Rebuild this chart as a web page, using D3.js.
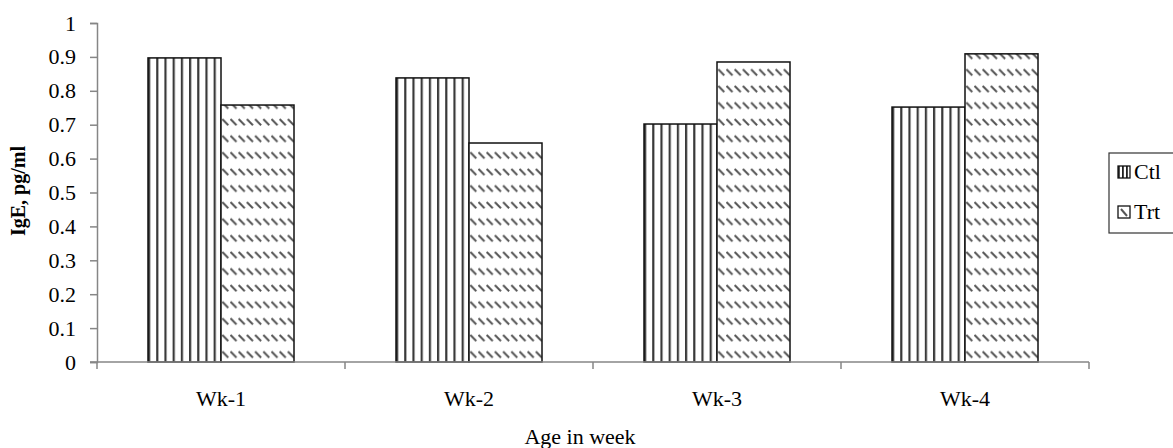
<!DOCTYPE html>
<html><head><meta charset="utf-8">
<script src="https://cdn.jsdelivr.net/npm/d3@7"></script>
<style>body{margin:0;background:#fff}svg{display:block}text{font-family:"Liberation Serif","Times New Roman",serif;fill:#000}</style>
</head><body>
<svg id="c" width="1173" height="448"></svg>
<script>
const categories = ["Wk-1","Wk-2","Wk-3","Wk-4"];
const seriesNames = ["Ctl","Trt"];
const ctlValues = [0.897, 0.838, 0.702, 0.752];
const trtValues = [0.758, 0.646, 0.885, 0.909];
const yTicks = [0,0.1,0.2,0.3,0.4,0.5,0.6,0.7,0.8,0.9,1];

const svg = d3.select("#c");
const defs = svg.append("defs");
const pv = defs.append("pattern").attr("id","pv").attr("patternUnits","userSpaceOnUse")
  .attr("width",8.2).attr("height",10);
pv.append("rect").attr("width",8.2).attr("height",10).attr("fill","#fff");
pv.append("rect").attr("x",0).attr("y",0).attr("width",2.2).attr("height",10).attr("fill","#3a3a3a");
const pd = defs.append("pattern").attr("id","pd").attr("patternUnits","userSpaceOnUse")
  .attr("width",8.2).attr("height",16.6);
pd.append("rect").attr("width",8.2).attr("height",16.6).attr("fill","#fff");
pd.append("line").attr("x1",0.5).attr("y1",3).attr("x2",6.5).attr("y2",9)
  .attr("stroke","#555").attr("stroke-width",2);
// legend patterns
const pvl = defs.append("pattern").attr("id","pvl").attr("patternUnits","userSpaceOnUse")
  .attr("x",1118).attr("width",4).attr("height",10);
pvl.append("rect").attr("width",4).attr("height",10).attr("fill","#fff");
pvl.append("rect").attr("x",0).attr("width",1.8).attr("height",10).attr("fill","#222");
const pdl = defs.append("pattern").attr("id","pdl").attr("patternUnits","objectBoundingBox")
  .attr("width",1).attr("height",1);
pdl.append("rect").attr("width",12).attr("height",12).attr("fill","#fff");
pdl.append("line").attr("x1",3).attr("y1",3).attr("x2",9).attr("y2",10)
  .attr("stroke","#555").attr("stroke-width",2);

const x0 = 97, x1 = 1089, yTop = 23, yBot = 362;
const x = d3.scaleBand().domain(categories).range([x0,x1]).padding(0);
const y = d3.scaleLinear().domain([0,1]).range([yBot,yTop]);
const groupW = 146;
const xs = d3.scaleBand().domain(seriesNames).range([0,groupW]).padding(0);

const data = categories.map((c,i)=>({cat:c, vals:[{s:"Ctl",v:ctlValues[i]},{s:"Trt",v:trtValues[i]}]}));
const fills = {Ctl:"url(#pv)", Trt:"url(#pd)"};
const lfills = {Ctl:"url(#pvl)", Trt:"url(#pdl)"};

const g = svg.append("g").selectAll("g").data(data).join("g")
  .attr("transform",d=>`translate(${x(d.cat)+x.bandwidth()/2-groupW/2},0)`);
g.selectAll("rect").data(d=>d.vals).join("rect")
  .attr("x",d=>xs(d.s)).attr("width",xs.bandwidth())
  .attr("y",d=>y(d.v)).attr("height",d=>yBot-y(d.v))
  .attr("fill",d=>fills[d.s]).attr("stroke","#111").attr("stroke-width",1.5);

// y axis
const yAxis = svg.append("g").attr("transform",`translate(${x0},0)`)
  .call(d3.axisLeft(y).tickValues(yTicks).tickSize(7).tickPadding(14).tickFormat(d=>d===0||d===1?String(d):d3.format(".1f")(d)));
yAxis.attr("font-family",null).attr("font-size",null);
yAxis.select(".domain").attr("stroke","#868686").attr("stroke-width",1.5);
yAxis.selectAll(".tick line").attr("stroke","#868686").attr("stroke-width",1.5);
yAxis.selectAll("text").attr("font-size",22).attr("fill","#000");

// x axis
const xAxisG = svg.append("g").attr("transform",`translate(0,${yBot})`);
xAxisG.append("line").attr("x1",x0-7).attr("x2",x1).attr("y1",0).attr("y2",0)
  .attr("stroke","#868686").attr("stroke-width",1.5);
const bounds = categories.map(c=>x(c)+x.bandwidth());
xAxisG.selectAll("line.tk").data(bounds).join("line").attr("class","tk")
  .attr("x1",d=>d).attr("x2",d=>d).attr("y1",0).attr("y2",7)
  .attr("stroke","#868686").attr("stroke-width",1.5);
xAxisG.append("line").attr("x1",x0).attr("x2",x0).attr("y1",0).attr("y2",7)
  .attr("stroke","#868686").attr("stroke-width",1.5);
xAxisG.selectAll("text").data(categories).join("text")
  .attr("x",d=>x(d)+x.bandwidth()/2).attr("y",44).attr("text-anchor","middle")
  .attr("font-size",22).text(d=>d);

// axis titles
svg.append("text").attr("transform","translate(25,191) rotate(-90)").attr("text-anchor","middle")
  .attr("font-size",20).attr("font-weight","bold").text("IgE, pg/ml");
svg.append("text").attr("x",580).attr("y",444).attr("text-anchor","middle")
  .attr("font-size",22).text("Age in week");

// legend
const lg = svg.append("g");
lg.append("rect").attr("x",1109).attr("y",153).attr("width",80).attr("height",80)
  .attr("fill","#fff").attr("stroke","#333").attr("stroke-width",1.2);
seriesNames.forEach((s,i)=>{
  const yy = 172 + i*40;
  lg.append("rect").attr("x",1118).attr("y",yy-6).attr("width",12).attr("height",12)
    .attr("fill",lfills[s]).attr("stroke","#111").attr("stroke-width",1.3);
  lg.append("text").attr("x",1134).attr("y",yy+7).attr("font-size",22).text(s);
});
</script>
</body></html>
